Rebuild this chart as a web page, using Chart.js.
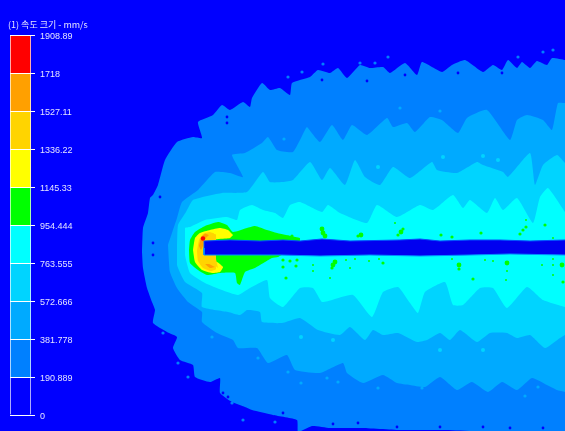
<!DOCTYPE html>
<html>
<head>
<meta charset="utf-8">
<title>속도 크기</title>
<script src="https://cdn.jsdelivr.net/npm/chart.js@4/dist/chart.umd.min.js"></script>
<style>
  html, body { margin: 0; padding: 0; width: 565px; height: 431px; overflow: hidden; background: #0000ff; }
  canvas { position: absolute; left: 0; top: 0; }
  #barTitle { position: absolute; left: 8px; top: 18px; font: 9px "Noto Sans CJK KR", sans-serif; line-height: 14px; color: #e4e4ff; white-space: nowrap; }
</style>
</head>
<body>
<canvas id="fieldChart" width="565" height="431"></canvas>
<canvas id="barChart" width="110" height="431"></canvas>
<div id="barTitle">(1) 속도 크기 - mm/s</div>
<script>
// ==============================
// Colour bar values
// ==============================
const barLabels = ["0", "190.889", "381.778", "572.666", "763.555", "954.444", "1145.33", "1336.22", "1527.11", "1718", "1908.89"];
const barLevels = [0, 190.889, 381.778, 572.666, 763.555, 954.444, 1145.33, 1336.22, 1527.11, 1718, 1908.89];
const bandColors = ["#0000ff", "#0080ff", "#00aaff", "#00d4ff", "#00ffff", "#00ff00", "#ffff00", "#ffd400", "#ffa000", "#ff0000"];

// ==============================
// Contours, [x, y]
// ==============================
const level190Top = [[142,252],[143,228],[148,213],[150,198],[153,195],[158,185],[165,160],[177,142],[193,137],[202,138],[198,122],[213,115],[222,105],[230,110],[243,102],[250,107],[252,98],[262,83],[270,90],[280,88],[290,95],[292,83],[310,77],[318,70],[330,73],[338,68],[347,78],[360,65],[370,68],[383,67],[390,73],[405,63],[417,75],[422,62],[442,72],[452,65],[465,60],[483,72],[493,65],[502,70],[508,60],[517,68],[522,62],[530,68],[537,61],[547,65],[552,58],[565,60]];
const level190Bottom = [[142,252],[143,268],[147,288],[152,302],[155,310],[153,323],[167,332],[177,337],[173,348],[180,360],[193,365],[195,377],[210,382],[220,378],[220,393],[232,402],[245,407],[252,410],[273,415],[297,420],[298,432],[312,426],[330,428],[360,428],[400,430],[440,430],[500,432],[565,432]];

const level381Top = [[168,245],[177,218],[182,202],[198,190],[215,172],[230,173],[243,177],[232,155],[245,153],[262,143],[268,137],[277,150],[293,152],[305,130],[307,127],[320,142],[332,125],[343,140],[352,125],[367,135],[387,118],[393,127],[407,123],[415,132],[430,117],[442,120],[458,133],[467,118],[487,110],[510,140],[517,120],[527,115],[543,120],[552,130],[558,103],[565,103]];
const level381Bottom = [[168,245],[170,272],[177,288],[188,302],[202,312],[202,322],[217,333],[233,340],[238,348],[257,348],[268,363],[287,355],[295,370],[320,373],[343,363],[347,373],[363,383],[383,375],[397,383],[410,385],[425,387],[440,377],[457,390],[472,382],[488,392],[502,382],[517,390],[532,378],[547,385],[557,390],[565,392]];

const level572Top = [[177,248],[178,225],[186,212],[193,200],[222,193],[247,192],[263,172],[270,182],[283,182],[293,180],[310,162],[322,180],[330,168],[345,185],[355,160],[365,177],[380,185],[393,167],[410,178],[432,162],[437,170],[457,173],[477,162],[483,165],[503,172],[508,177],[530,153],[535,185],[543,165],[557,155],[565,163]];
const level572Bottom = [[177,248],[177,265],[185,282],[202,293],[202,307],[228,312],[240,315],[247,310],[250,310],[260,312],[262,322],[282,323],[300,318],[318,330],[340,335],[350,327],[365,340],[373,330],[383,335],[398,333],[417,342],[427,340],[440,333],[450,340],[460,330],[477,342],[490,333],[507,333],[517,338],[530,335],[545,348],[560,338],[565,335]];

const level763Top = [[185,241],[185,228],[190,227],[205,220],[227,217],[237,220],[240,210],[252,205],[263,210],[275,213],[283,218],[290,205],[300,202],[322,212],[328,205],[340,213],[367,223],[377,205],[397,217],[420,205],[433,210],[453,195],[463,208],[470,200],[487,213],[495,198],[503,210],[517,198],[533,223],[540,197],[548,188],[565,212]];
const level763Bottom = [[185,241],[185,255],[190,273],[205,283],[222,290],[238,295],[250,288],[267,280],[270,298],[283,307],[300,288],[313,288],[322,302],[332,300],[353,295],[372,317],[383,292],[398,287],[410,303],[418,313],[425,292],[445,282],[453,305],[463,305],[480,288],[493,288],[507,308],[527,287],[543,300],[565,307]];

const level954Top = [[189,250],[190,240],[195,232],[205,226],[218,222],[227,225],[233,232],[247,228],[255,226],[267,230],[277,233],[300,238]];
const level954Bottom = [[189,250],[190,263],[198,270],[207,275],[220,273],[235,273],[237,283],[240,285],[245,272],[255,268],[265,262],[272,258],[278,257],[300,245]];

const level1145Top = [[193,250],[195,238],[200,233],[210,230],[220,228],[228,230],[233,235]];
const level1145Bottom = [[193,250],[195,262],[202,270],[212,273],[220,272],[223,267],[217,262],[208,260],[204,254],[204,241],[230,238],[233,235]];

const level1336Top = [[197,251],[199,240],[203,234],[210,232],[216,235]];
const level1336Bottom = [[197,251],[198,261],[203,268],[211,271],[218,268],[212,264],[205,260],[203,252],[204,241],[214,239],[216,235]];

const level1527UpperTop = [[199,246],[201,238],[205,233.5],[209,235]];
const level1527UpperBottom = [[199,246],[201,250],[203,246],[204,240],[209,235]];
const level1527LowerTop = [[205,264],[209,264],[215,267]];
const level1527LowerBottom = [[205,264],[210,268],[215,267]];

// the slot in the plate, low-speed core
const slotTop = [[204,248],[204,241],[230,240],[260,241],[283,240],[300,241],[322,239],[350,241],[400,240],[420,239],[440,241],[470,240],[500,240],[530,241],[565,240]];
const slotBottom = [[204,248],[204,255],[240,255],[280,255],[320,256],[370,255],[420,256],[470,255],[510,254],[565,255]];

// ==============================
// Small islands, [x, y]
// ==============================
const redSpots = [[203,238.5]];
const greenBig = [[323,233],[322,229],[325,236],[361,235],[401,232],[333,265],[335,262],[459,265],[507,263],[562,265]];
const greenMid = [[283,237],[288,237],[292,236],[358,236],[398,235],[403,229],[441,235],[452,237],[481,233],[520,234],[523,230],[526,227],[545,225],[283,260],[290,261],[297,260],[283,267],[286,278],[296,266],[332,268],[459,269],[473,279],[383,263],[563,282]];
const greenSmall = [[395,223],[526,220],[553,238],[313,265],[313,271],[330,278],[350,268],[355,259],[346,260],[369,261],[379,259],[452,259],[485,260],[493,261],[507,271],[542,265],[553,259],[553,265],[553,275],[506,280]];
const holesBlue = [[458,73],[502,73],[367,81],[405,75],[322,80],[227,117],[227,123],[153,243],[153,255],[160,197],[223,393],[228,397],[283,413],[333,424],[358,423],[397,427],[440,427],[483,427],[510,428],[543,428]];
const spots190 = [[388,57],[553,50],[543,52],[518,57],[375,63],[360,63],[323,64],[302,72],[288,77],[202,122],[178,363],[188,377],[232,403],[243,420],[275,422],[163,333]];
const spots381 = [[440,111],[400,108],[284,139],[301,383],[378,388],[422,388],[538,387],[525,396],[258,358],[212,337],[288,372],[327,378],[338,382]];
const spots572 = [[378,167],[443,157],[483,156],[498,160],[301,337],[333,340],[440,350],[483,350]];

// ==============================
// Helpers
// ==============================
function toPoints(list) {
    return list.map(p => ({x: p[0], y: p[1]}));
}

// two edges of one contour, the first one fills across to the second
function contour(top, bottom, color, tension = 0.15) {
    return [
        {data: toPoints(top), showLine: true, borderWidth: 0, pointRadius: 0, fill: "+1", backgroundColor: color, tension: tension},
        {data: toPoints(bottom), showLine: true, borderWidth: 0, pointRadius: 0, fill: false, tension: tension}
    ];
}

function spots(list, color, radius) {
    return {data: toPoints(list), showLine: false, pointRadius: radius, borderWidth: 0, backgroundColor: color};
}

function edge(list, color) {
    return {data: toPoints(list), showLine: true, borderWidth: 1, borderColor: color, pointRadius: 0, fill: false};
}

// ==============================
// Velocity field
// ==============================
// first dataset ends up on top, so innermost comes first
const fieldDatasets = [
    edge(slotTop, "#0050ff"),
    edge(slotBottom, "#0090ff"),
    ...contour(slotTop, slotBottom, "#0000f0", 0),
    spots(redSpots, bandColors[9], 2.2),
    ...contour(level1527UpperTop, level1527UpperBottom, bandColors[8]),
    ...contour(level1527LowerTop, level1527LowerBottom, bandColors[8]),
    ...contour(level1336Top, level1336Bottom, bandColors[7]),
    ...contour(level1145Top, level1145Bottom, bandColors[6]),
    ...contour(level954Top, level954Bottom, bandColors[5]),
    spots(greenBig, bandColors[5], 2.4),
    spots(greenMid, bandColors[5], 1.6),
    spots(greenSmall, bandColors[5], 1),
    ...contour(level763Top, level763Bottom, bandColors[4]),
    spots(spots572, bandColors[3], 2),
    ...contour(level572Top, level572Bottom, bandColors[3]),
    spots(spots381, bandColors[2], 1.6),
    ...contour(level381Top, level381Bottom, bandColors[2]),
    spots(holesBlue, bandColors[0], 1.4),
    spots(spots190, bandColors[1], 1.6),
    ...contour(level190Top, level190Bottom, bandColors[1])
];

new Chart(document.getElementById("fieldChart"), {
    type: "scatter",
    data: {datasets: fieldDatasets},
    options: {
        responsive: false,
        animation: false,
        layout: {padding: 0, autoPadding: false},
        plugins: {legend: {display: false}, tooltip: {enabled: false}},
        scales: {
            x: {type: "linear", min: 0, max: 565, display: false},
            y: {type: "linear", min: 0, max: 431, reverse: true, display: false}
        }
    }
});

// ==============================
// Colour bar
// ==============================
new Chart(document.getElementById("barChart"), {
    type: "bar",
    data: {
        labels: [""],
        datasets: bandColors.map((color, i) => ({
            data: [[barLevels[i], barLevels[i + 1]]],
            backgroundColor: color,
            borderColor: "#ffffff",
            borderWidth: {left: 1, right: 1, top: 0, bottom: 0},
            borderSkipped: false,
            barPercentage: 1,
            categoryPercentage: 1,
            grouped: false
        }))
    },
    options: {
        responsive: false,
        animation: false,
        layout: {padding: {left: 10, top: 35, bottom: 16, right: 0}},
        plugins: {legend: {display: false}, tooltip: {enabled: false}},
        scales: {
            x: {display: false},
            y: {
                position: "right",
                min: 0,
                max: 1908.89,
                border: {display: false},
                grid: {color: "#ffffff", lineWidth: 1, tickLength: 4, z: 1},
                afterFit: scale => { scale.width = 79; },
                afterBuildTicks: scale => { scale.ticks = barLevels.map(v => ({value: v})); },
                ticks: {
                    autoSkip: false,
                    padding: 5,
                    labelOffset: 2,
                    color: "#e4e4ff",
                    font: {family: "Liberation Sans", size: 9},
                    callback: (value, index) => barLabels[index]
                }
            }
        }
    }
});
</script>
</body>
</html>
